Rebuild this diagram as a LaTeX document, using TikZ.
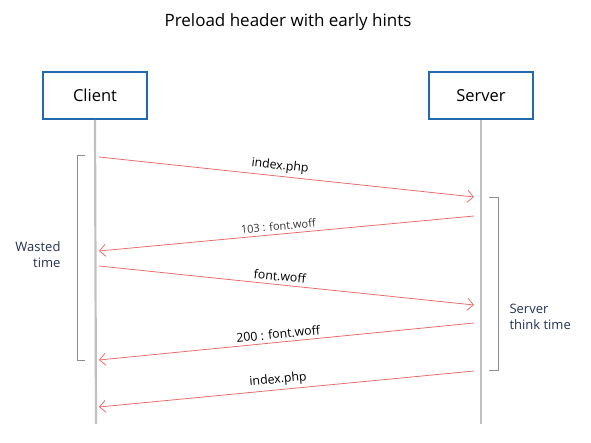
\documentclass[tikz,border=0pt]{standalone}
\usepackage{fontspec}
\setmainfont{Open Sans}
\usepackage{tikz}
\usetikzlibrary{positioning}
\usetikzlibrary{calc}
\usetikzlibrary{arrows.meta}
\definecolor{boxblue}{RGB}{35,105,175}
\definecolor{msgred}{RGB}{232,110,110}
\definecolor{lifegray}{RGB}{192,192,192}
\definecolor{notenavy}{RGB}{35,50,80}
\tikzstyle{actor} = [rectangle,draw=boxblue,line width=2pt,minimum width=104pt,minimum height=47pt,font=\fontsize{16.5}{19}\selectfont]
\tikzstyle{life} = [draw=lifegray,line width=2.2pt]
\tikzstyle{msg} = [draw=msgred,line width=0.8pt,-{Straight Barb[length=6pt,width=12pt]}]
\tikzstyle{span} = [draw=gray!90,line width=0.9pt]
\tikzstyle{note} = [text=notenavy,font=\fontsize{13}{16}\selectfont,align=left]

\begin{document}
\begin{tikzpicture}[x=1pt,y=-1pt,font=\fontsize{12.3}{14}\selectfont]
	\useasboundingbox (0,0) rectangle (591,443);
	\node (title) at (288,22) {\fontsize{17}{20}\selectfont Preload header with early hints};
	\node[actor] (client) at (95,95.5) {Client};
	\node[actor] (server) at (481,96) {Server};
	\coordinate (clientend) at (96,424);
	\coordinate (serverend) at (481,424);
	\draw[life] (client.south) -- (clientend);
	\draw[life] (server.south) -- (serverend);
	
	% message ends on the lifelines
	\coordinate (c1) at (99,157);  \coordinate (s1) at (474,197);
	\coordinate (s2) at (474,216); \coordinate (c2) at (99,251);
	\coordinate (c3) at (99,266);  \coordinate (s3) at (474,305);
	\coordinate (s4) at (474,323); \coordinate (c4) at (99,360);
	\coordinate (s5) at (474,371); \coordinate (c5) at (99,407);
	
	\draw[msg] (c1) to node[above,sloped,pos=0.48,text=black] {index.php} (s1);
	\draw[msg] (s2) to node[above,sloped,pos=0.52,text=black!80,font=\fontsize{11}{13}\selectfont] {103 : font.woff} (c2);
	\draw[msg] (c3) to node[above,sloped,pos=0.48,text=black] {font.woff} (s3);
	\draw[msg] (s4) to node[above,sloped,pos=0.52,text=black] {200 : font.woff} (c4);
	\draw[msg] (s5) to node[above,sloped,pos=0.52,text=black] {index.php} (c5);
	
	% brackets
	\draw[span] (85,155) -| (77,360) -- (85,360);
	\draw[span] (489,197) -| (498,370) -- (489,370);
	\node[note,align=right,anchor=east] (wasted) at (64,255) {Wasted\\time};
	\node[note,anchor=west] (think) at (506,317) {Server\\think time};
\end{tikzpicture}
\end{document}
